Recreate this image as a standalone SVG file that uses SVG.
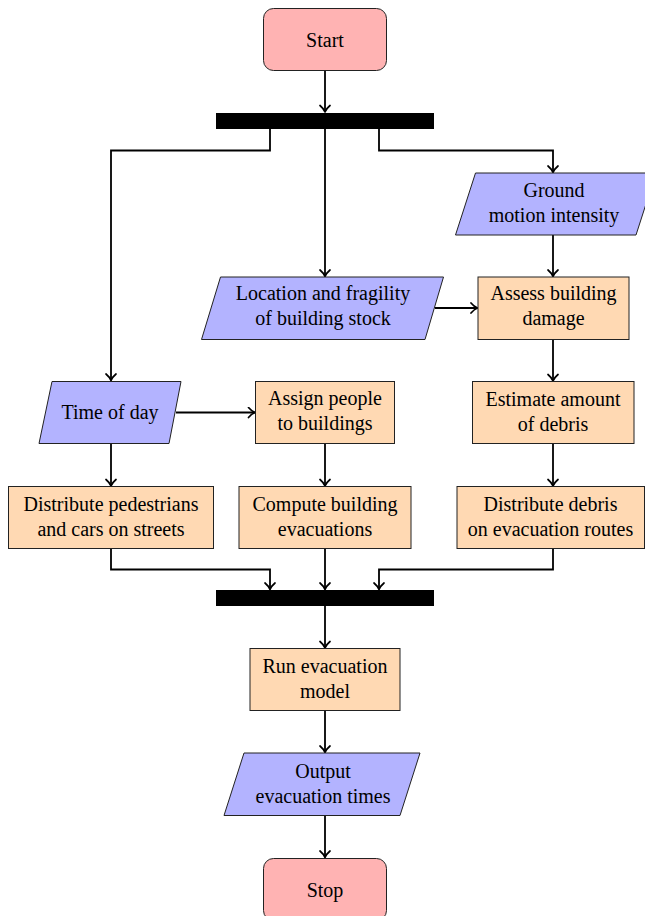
<svg xmlns="http://www.w3.org/2000/svg" width="645" height="916" viewBox="0 0 645 916">
<defs>
<style>
.term{fill:#ffb3b3;stroke:#222;stroke-width:1}
.io{fill:#b3b3ff;stroke:#222;stroke-width:1}
.proc{fill:#ffd9b3;stroke:#222;stroke-width:1}
.bar{fill:#000}
text{font-family:"Liberation Serif","Times New Roman",Tinos,"Nimbus Roman","Nimbus Roman No9 L","Noto Serif","DejaVu Serif",FreeSerif,Times,serif;font-size:20px;fill:#000;text-anchor:middle}
.conn path{fill:none;stroke:#000;stroke-width:1.8;marker-end:url(#arr)}
</style>
<marker id="arr" markerUnits="userSpaceOnUse" viewBox="-8 -6 10 12" refX="0" refY="0" markerWidth="10" markerHeight="12" orient="auto">
<path d="M -6.5,-5 C -4,-2 -1.5,-0.6 0,0 C -1.5,0.6 -4,2 -6.5,5" fill="none" stroke="#000" stroke-width="1.7" stroke-linecap="round" stroke-linejoin="round"/>
</marker>
</defs>
<rect x="0" y="0" width="645" height="916" fill="#fff"/>

<g class="conn" id="connectors">
<path d="M325,71 V112"/>
<path d="M270,129 V150.5 H111 V380.5"/>
<path d="M325,129 V276.5"/>
<path d="M379,129 V150.5 H553 V172.5"/>
<path d="M553,235 V276.5"/>
<path d="M435,308 H477.5"/>
<path d="M553,339.5 V381"/>
<path d="M176,412.5 H255"/>
<path d="M111,443.5 V486"/>
<path d="M325,443.5 V486"/>
<path d="M553,443.5 V486"/>
<path d="M111,548.5 V569.5 H270 V589.5"/>
<path d="M325,548.5 V589.5"/>
<path d="M553,548.5 V569.5 H379 V589.5"/>
<path d="M325,606 V648"/>
<path d="M325,710.5 V752.5"/>
<path d="M325,815.5 V857.5"/>
</g>

<g id="start"><rect class="term" x="263.5" y="8.5" width="123" height="62" rx="10"/><text x="325" y="47">Start</text></g>
<g id="fork1"><rect class="bar" x="216" y="113" width="218" height="16"/></g>
<g id="ground"><polygon class="io" points="475.5,173 656,173 636,235 455.5,235"/><text x="554" y="197">Ground</text><text x="554" y="222">motion intensity</text></g>
<g id="location"><polygon class="io" points="220.5,277 443.5,277 425,339.5 201.5,339.5"/><text x="323" y="300">Location and fragility</text><text x="323" y="325">of building stock</text></g>
<g id="assess"><rect class="proc" x="478" y="277" width="151" height="62.5"/><text x="553.5" y="300">Assess building</text><text x="553.5" y="325">damage</text></g>
<g id="timeofday"><polygon class="io" points="52,381.5 181,381.5 169,443.5 39,443.5"/><text x="110" y="419">Time of day</text></g>
<g id="assign"><rect class="proc" x="255.5" y="381.5" width="139" height="62"/><text x="325" y="405">Assign people</text><text x="325" y="430">to buildings</text></g>
<g id="estimate"><rect class="proc" x="472.5" y="381.5" width="161.5" height="62"/><text x="553" y="406">Estimate amount</text><text x="553" y="431">of debris</text></g>
<g id="distped"><rect class="proc" x="8.5" y="486.5" width="205" height="62"/><text x="111" y="511">Distribute pedestrians</text><text x="111" y="536">and cars on streets</text></g>
<g id="compute"><rect class="proc" x="239" y="486.5" width="172" height="62"/><text x="325" y="511">Compute building</text><text x="325" y="536">evacuations</text></g>
<g id="distdebris"><rect class="proc" x="457" y="486.5" width="187.5" height="62"/><text x="550.5" y="511">Distribute debris</text><text x="550.5" y="536">on evacuation routes</text></g>
<g id="join"><rect class="bar" x="216" y="590" width="218" height="16"/></g>
<g id="run"><rect class="proc" x="250" y="648.5" width="150" height="62"/><text x="325" y="673">Run evacuation</text><text x="325" y="698">model</text></g>
<g id="output"><polygon class="io" points="244,753 420,753 400,815.5 224,815.5"/><text x="323" y="778">Output</text><text x="323" y="803">evacuation times</text></g>
<g id="stop"><rect class="term" x="263.5" y="858.5" width="123" height="62" rx="10"/><text x="325" y="897">Stop</text></g>
</svg>
